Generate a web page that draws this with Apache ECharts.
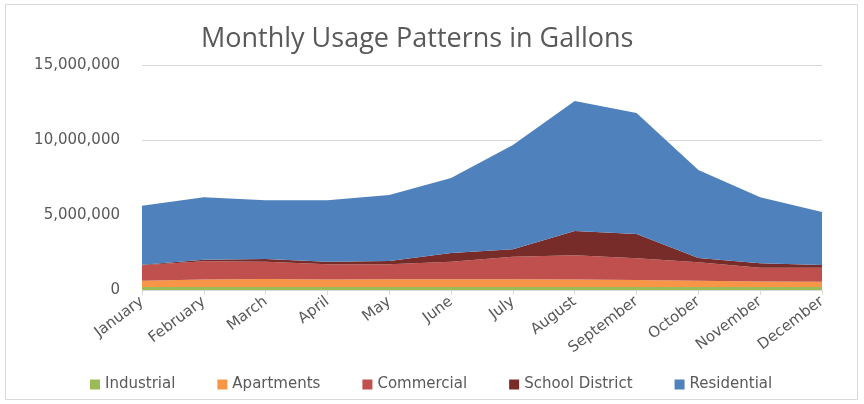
<!DOCTYPE html>
<html>
<head>
<meta charset="utf-8">
<script src="https://cdn.jsdelivr.net/npm/echarts@6/dist/echarts.min.js"></script>
<style>
  html, body { margin: 0; padding: 0; background: #fff; }
  #chart { width: 864px; height: 404px; }
</style>
</head>
<body>
<div id="chart"></div>
<script>
// months on the x axis
const months = ['January', 'February', 'March', 'April', 'May', 'June', 'July',
  'August', 'September', 'October', 'November', 'December']

// gallons per group
const industrial = [200000, 200000, 200000, 200000, 200000, 200000, 200000, 200000, 200000, 200000, 200000, 200000]
const apartments = [420000, 500000, 530000, 500000, 510000, 510000, 520000, 500000, 470000, 420000, 370000, 350000]
const commercial = [1030000, 1210000, 1160000, 1010000, 1000000, 1180000, 1500000, 1610000, 1440000, 1230000, 920000, 940000]
const schoolDistrict = [30000, 110000, 180000, 180000, 220000, 580000, 490000, 1620000, 1620000, 280000, 300000, 180000]
const residential = [3940000, 4160000, 3910000, 4090000, 4400000, 5000000, 6960000, 8670000, 8070000, 5870000, 4390000, 3530000]

const yTicks = [0, 5000000, 10000000, 15000000]

const titleFont = '"Open Sans", sans-serif'
const font = '"DejaVu Sans", sans-serif'
const textColor = '#595959'

function area(name, data, color) {
  return {
    name,
    type: 'line',
    stack: 'total',
    data,
    symbol: 'none',
    lineStyle: { width: 0 },
    areaStyle: { color, opacity: 1 },
    itemStyle: { color },
    emphasis: { disabled: true }
  }
}

const chart = echarts.init(document.getElementById('chart'))

chart.setOption({
  animation: false,
  textStyle: { fontFamily: font },
  title: {
    text: 'Monthly Usage Patterns in Gallons',
    left: 196,
    top: 21,
    textStyle: { fontFamily: titleFont, fontSize: 27, fontWeight: 'normal', color: textColor }
  },
  graphic: [{
    type: 'rect',
    shape: { x: 5.5, y: 4.5, width: 852, height: 395 },
    style: { fill: 'none', stroke: '#d9d9d9', lineWidth: 1 },
    silent: true
  }],
  legend: {
    top: 372,
    left: 85,
    itemWidth: 10,
    itemHeight: 10,
    itemGap: 42,
    icon: 'rect',
    textStyle: { fontFamily: font, fontSize: 15, color: textColor },
    data: ['Industrial', 'Apartments', 'Commercial', 'School District', 'Residential']
  },
  grid: { left: 142, right: 42, top: 65, bottom: 114 },
  xAxis: {
    type: 'category',
    data: months,
    boundaryGap: false,
    axisLine: { lineStyle: { color: '#d9d9d9' } },
    axisTick: { show: true, length: 5, lineStyle: { color: '#d9d9d9' } },
    axisLabel: { rotate: 37, fontSize: 15, color: textColor, fontFamily: font, margin: 10 }
  },
  yAxis: {
    type: 'value',
    min: yTicks[0],
    max: yTicks[yTicks.length - 1],
    interval: 5000000,
    axisLine: { show: false },
    axisTick: { show: false },
    splitLine: { lineStyle: { color: '#d9d9d9' } },
    axisLabel: {
      fontSize: 15,
      color: textColor,
      fontFamily: font,
      margin: 22,
      formatter: v => v.toLocaleString('en-US')
    }
  },
  series: [
    area('Industrial', industrial, '#9BBB59'),
    area('Apartments', apartments, '#F79646'),
    area('Commercial', commercial, '#C0504D'),
    area('School District', schoolDistrict, '#772C2A'),
    area('Residential', residential, '#4F81BD')
  ]
})
</script>
</body>
</html>
